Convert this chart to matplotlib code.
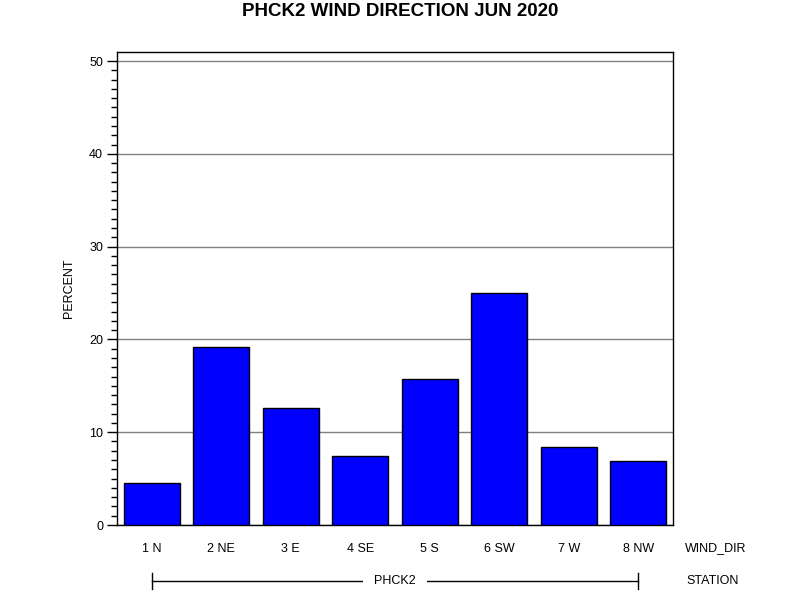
import matplotlib
matplotlib.use("Agg")
import matplotlib.pyplot as plt
from matplotlib.ticker import MultipleLocator

plt.rcParams['font.family'] = ['Liberation Sans', 'DejaVu Sans']

categories = ["1 N", "2 NE", "3 E", "4 SE", "5 S", "6 SW", "7 W", "8 NW"]
percent = [4.5, 19.2, 12.6, 7.4, 15.7, 25.0, 8.4, 6.9]
station = "PHCK2"
title = "PHCK2 WIND DIRECTION JUN 2020"

fig = plt.figure(figsize=(8, 6), dpi=100)
ax = fig.add_axes([117/800, 75/600, 556/800, 473/600])

x = list(range(len(categories)))
ax.bar(x, percent, width=0.81, color="#0000FF", edgecolor="black", linewidth=1, zorder=3)

ax.set_xlim(-0.5, len(categories) - 0.5)
ax.set_ylim(0, 50.97)
ax.yaxis.set_major_locator(MultipleLocator(10))
ax.yaxis.set_minor_locator(MultipleLocator(1))
ax.yaxis.grid(True, which="major", color="#808080", linewidth=1, zorder=1)
ax.tick_params(axis="y", which="major", length=7, width=1, labelsize=9, pad=3)
ax.tick_params(axis="y", which="minor", length=4, width=1)
ax.set_xticks(x)
ax.set_xticklabels(categories, fontsize=9)
ax.tick_params(axis="x", length=0, pad=13)
for s in ax.spines.values():
    s.set_linewidth(1)
    s.set_color("black")

ax.set_ylabel("PERCENT", fontsize=9, labelpad=10)
fig.text(685/800, 1 - 548/600, "WIND_DIR", fontsize=9, va="center", ha="left")
fig.text(686/800, 1 - 581/600, "STATION", fontsize=9, va="center", ha="left")

# station group bracket
trans = ax.get_xaxis_transform()
yb = -(581 - 525) / 473
ax.text((len(categories) - 1) / 2, yb, station, transform=trans, ha="center", va="center",
        fontsize=9, bbox=dict(facecolor="white", edgecolor="none", pad=8), zorder=5, clip_on=False)
ax.plot([0, len(categories) - 1], [yb, yb], transform=trans, color="black", linewidth=1, clip_on=False, zorder=4)
for xe in (0, len(categories) - 1):
    ax.plot([xe, xe], [yb - 8/473, yb + 8/473], transform=trans, color="black", linewidth=1, clip_on=False)

fig.suptitle(title, fontsize=13.5, fontweight="bold", y=1 - 12/600, va="center")

fig.savefig("out.png", dpi=100)
